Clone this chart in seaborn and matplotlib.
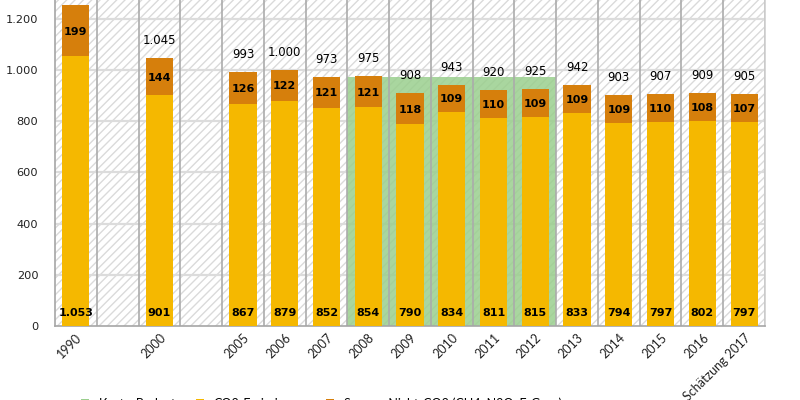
import matplotlib
matplotlib.use("Agg")
import matplotlib.pyplot as plt
from matplotlib.patches import Rectangle, Patch
import seaborn as sns
import pandas as pd
import numpy as np

# ---- data ----
slots = ["1990", " ", "2000", "  ", "2005", "2006", "2007", "2008", "2009", "2010",
         "2011", "2012", "2013", "2014", "2015", "2016", "Schätzung 2017"]
years = ["1990", "2000", "2005", "2006", "2007", "2008", "2009", "2010",
         "2011", "2012", "2013", "2014", "2015", "2016", "Schätzung 2017"]
co2 = [1053, 901, 867, 879, 852, 854, 790, 834, 811, 815, 833, 794, 797, 802, 797]
non_co2 = [199, 144, 126, 122, 121, 121, 118, 109, 110, 109, 109, 109, 110, 108, 107]
totals = [1252, 1045, 993, 1000, 973, 975, 908, 943, 920, 925, 942, 903, 907, 909, 905]
kyoto_years = ["2008", "2009", "2010", "2011", "2012"]
kyoto = [973, 973, 973, 973, 973]

YELLOW = "#F5B800"
ORANGE = "#D67F0C"
GREEN = "#9ACF8E"


def de(v):
    return f"{v:,}".replace(",", ".")


sns.set_style("white")
plt.rcParams["font.family"] = ["DejaVu Sans"]
plt.rcParams["text.color"] = "black"
plt.rcParams["xtick.color"] = "#222222"
plt.rcParams["ytick.color"] = "#222222"
plt.rcParams["hatch.color"] = "#dadada"
plt.rcParams["hatch.linewidth"] = 1.0

fig = plt.figure(figsize=(8, 4), dpi=100)
ax = fig.add_axes([55 / 800, 74 / 400, 710 / 800, 326 / 400])
ax.set_facecolor("white")

# hatched background
ax.add_patch(Rectangle((0, 0), 1, 1, transform=ax.transAxes, facecolor="white",
                       edgecolor="#dadada", hatch="////", linewidth=0, zorder=0))

stack_df = pd.DataFrame({"year": years,
                         "sum": [c + n for c, n in zip(co2, non_co2)],
                         "co2": co2})
kyoto_df = pd.DataFrame({"year": kyoto_years, "kyoto": kyoto})

sns.barplot(data=kyoto_df, x="year", y="kyoto", order=slots, width=1.0,
            color=GREEN, saturation=1, alpha=0.85, edgecolor="none",
            linewidth=0, ax=ax, zorder=1)
sns.barplot(data=stack_df, x="year", y="sum", order=slots, width=0.65,
            color=ORANGE, saturation=1, edgecolor="none", linewidth=0, ax=ax, zorder=3)
sns.barplot(data=stack_df, x="year", y="co2", order=slots, width=0.65,
            color=YELLOW, saturation=1, edgecolor="none", linewidth=0, ax=ax, zorder=4)

ax.set_xlim(-0.5, len(slots) - 0.5)
ax.set_ylim(0, 1273)
ax.set_xlabel("")
ax.set_ylabel("")

# grid lines
for yv in range(200, 1400, 200):
    ax.axhline(yv, color="#dcdcdc", lw=1.6, zorder=0.5)
for b in np.arange(0.5, len(slots), 1.0):
    ax.axvline(b, color="#ababab", lw=1.2, zorder=2)

yt = list(range(0, 1400, 200))
ax.set_yticks(yt)
ax.set_yticklabels([de(v) for v in yt], fontsize=8.2)
ax.tick_params(axis="y", length=0, pad=12)
ax.tick_params(axis="x", length=0, pad=4)
ax.set_xticks(range(len(slots)))
ax.set_xticklabels([s.strip() for s in slots], rotation=45, ha="right",
                   rotation_mode="anchor", fontsize=9, family="Lato")

ax.spines["top"].set_visible(False)
for side in ["left", "bottom", "right"]:
    ax.spines[side].set_color("#a6a6a6")
    ax.spines[side].set_linewidth(1.2)
ax.spines["right"].set_color("#cfcfcf")

# value labels
for yr, c, n, t in zip(years, co2, non_co2, totals):
    x = slots.index(yr)
    ax.annotate(de(c), (x, 0), xytext=(0, 13), textcoords="offset pixels",
                ha="center", va="center", fontsize=8, fontweight="bold",
                family="DejaVu Sans", zorder=6)
    ax.annotate(de(n), (x, c + n / 2), xytext=(0, -1), textcoords="offset pixels",
                ha="center", va="center", fontsize=8, fontweight="bold",
                family="DejaVu Sans", zorder=6)
    ax.annotate(de(t), (x, c + n), xytext=(0, 11), textcoords="offset pixels",
                ha="center", va="bottom", fontsize=8.5, family="DejaVu Sans",
                annotation_clip=False, zorder=6)

handles = [Patch(facecolor=GREEN, edgecolor="none"),
           Patch(facecolor=YELLOW, edgecolor="none"),
           Patch(facecolor=ORANGE, edgecolor="none")]
fig.legend(handles, ["Kyoto-Budget", "CO2-Emissionen",
                     "Summe Nicht-CO2 (CH4, N2O, F-Gase)"],
           loc="center left", bbox_to_anchor=(70 / 800, -0.009), ncol=3,
           frameon=False, handlelength=0.6, handleheight=0.6,
           handletextpad=0.8, columnspacing=1.6, prop={"family": "Lato", "size": 9})

fig.savefig("out.png", dpi=100)
